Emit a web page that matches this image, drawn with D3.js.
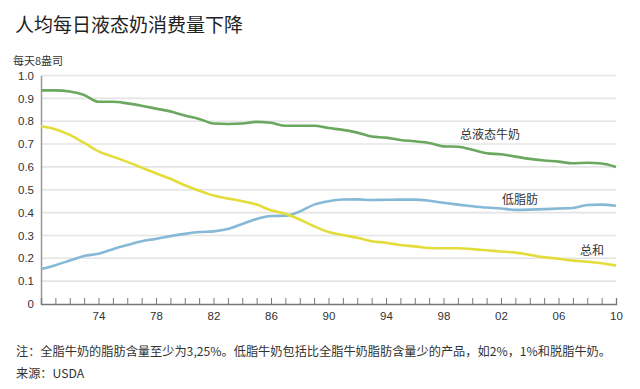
<!DOCTYPE html>
<html>
<head>
<meta charset="utf-8">
<script src="https://cdn.jsdelivr.net/npm/d3@7"></script>
<style>
  body { margin: 0; background: #fff; }
  svg { display: block; font-family: "Noto Sans CJK SC", "Noto Sans", sans-serif; }
</style>
</head>
<body>
<svg id="chart" width="640" height="389"></svg>
<script>
// years 1970 - 2010
var years = d3.range(1970, 2011);
var totalMilk = [0.935, 0.935, 0.93, 0.915, 0.885, 0.885, 0.878, 0.868, 0.855, 0.843,
	0.825, 0.81, 0.79, 0.788, 0.79, 0.797, 0.793, 0.78, 0.78, 0.78,
	0.77, 0.762, 0.75, 0.733, 0.728, 0.718, 0.712, 0.705, 0.69, 0.688,
	0.675, 0.66, 0.655, 0.645, 0.635, 0.628, 0.623, 0.616, 0.618, 0.615, 0.60];
var lowFat = [0.152, 0.17, 0.19, 0.21, 0.22, 0.24, 0.258, 0.275, 0.285, 0.297,
	0.307, 0.315, 0.318, 0.328, 0.35, 0.372, 0.385, 0.386, 0.405, 0.435,
	0.45, 0.457, 0.458, 0.455, 0.456, 0.457, 0.457, 0.452, 0.443, 0.435,
	0.428, 0.422, 0.418, 0.412, 0.413, 0.415, 0.418, 0.42, 0.433, 0.435, 0.43];
var wholeMilk = [0.778, 0.765, 0.74, 0.705, 0.668, 0.645, 0.622, 0.597, 0.572, 0.548,
	0.52, 0.496, 0.475, 0.462, 0.45, 0.435, 0.41, 0.395, 0.37, 0.34,
	0.315, 0.302, 0.29, 0.275, 0.268, 0.258, 0.252, 0.245, 0.244, 0.244,
	0.24, 0.235, 0.23, 0.225, 0.215, 0.205, 0.198, 0.19, 0.185, 0.178, 0.168];
var seriesNames = ["总液态牛奶", "低脂肪", "总和"];
var yTicks = [0, 0.1, 0.2, 0.3, 0.4, 0.5, 0.6, 0.7, 0.8, 0.9, 1.0];
var xTickYears = [1974, 1978, 1982, 1986, 1990, 1994, 1998, 2002, 2006, 2010];

var svg = d3.select("#chart");

var x = d3.scaleLinear().domain([1970, 2010]).range([41, 616]),
	y = d3.scaleLinear().domain([0, 1]).range([304, 75.5]);

// title etc
svg.append("text").attr("x", 15).attr("y", 32)
	.attr("font-size", "19px").attr("fill", "#222")
	.text("人均每日液态奶消费量下降");
svg.append("text").attr("x", 13).attr("y", 65)
	.attr("font-size", "11px").attr("fill", "#333")
	.text("每天8盎司");

// grid lines
svg.selectAll(".grid")
	.data(yTicks.slice(1))
	.enter()
	.append("line")
	.attr("class", "grid")
	.attr("x1", x(1970)).attr("x2", x(2010))
	.attr("y1", function(d) { return y(d); })
	.attr("y2", function(d) { return y(d); })
	.attr("stroke", "#e4e4e4")
	.attr("stroke-width", 1.6);

// y axis
var yAxis = d3.axisLeft(y).tickValues(yTicks).tickSize(0).tickPadding(7)
	.tickFormat(function(d) { return d === 0 ? "0" : d3.format(".1f")(d); });
var gy = svg.append("g").attr("transform", "translate(" + x(1970) + ",0)").call(yAxis);
gy.select(".domain").attr("stroke", "#999").attr("stroke-width", 1.5);
gy.selectAll("text").attr("font-size", "11.5px").attr("fill", "#333")
	.attr("font-family", "Liberation Sans, Arial, sans-serif");

// x axis, tick every year, labels every 4
var xAxis = d3.axisBottom(x).tickValues(years).tickSize(-6).tickPadding(8)
	.tickFormat(function(d) {
		return xTickYears.indexOf(d) >= 0 ? String(d).slice(2) : "";
	});
var gx = svg.append("g").attr("transform", "translate(0," + y(0) + ")").call(xAxis);
gx.select(".domain").attr("stroke", "#777").attr("stroke-width", 1.3);
gx.selectAll(".tick line").attr("stroke", "#777");
gx.selectAll("text").attr("font-size", "11.5px").attr("fill", "#333")
	.attr("font-family", "Liberation Sans, Arial, sans-serif");

// lines
var line = d3.line()
	.x(function(d, i) { return x(years[i]); })
	.y(function(d) { return y(d); })
	.curve(d3.curveMonotoneX);

var series = [
	{ name: seriesNames[0], values: totalMilk, color: "#6aa860", lx: 490, ly: 139 },
	{ name: seriesNames[1], values: lowFat, color: "#86b9d6", lx: 520, ly: 204 },
	{ name: seriesNames[2], values: wholeMilk, color: "#e3dc3a", lx: 592, ly: 255 }
];

series.forEach(function(s) {
	svg.append("path")
		.datum(s.values)
		.attr("d", line)
		.attr("fill", "none")
		.attr("stroke", s.color)
		.attr("stroke-width", 2.6)
		.attr("stroke-linejoin", "round");
	svg.append("text")
		.attr("x", s.lx).attr("y", s.ly)
		.attr("text-anchor", "middle")
		.attr("font-size", "12px").attr("fill", "#333")
		.text(s.name);
});

// notes
svg.append("text").attr("x", 16).attr("y", 356)
	.attr("font-size", "12.2px").attr("fill", "#333")
	.text("注：全脂牛奶的脂肪含量至少为3,25%。低脂牛奶包括比全脂牛奶脂肪含量少的产品，如2%，1%和脱脂牛奶。");
svg.append("text").attr("x", 16).attr("y", 378)
	.attr("font-size", "12.2px").attr("fill", "#333")
	.text("来源：USDA");
</script>
</body>
</html>
